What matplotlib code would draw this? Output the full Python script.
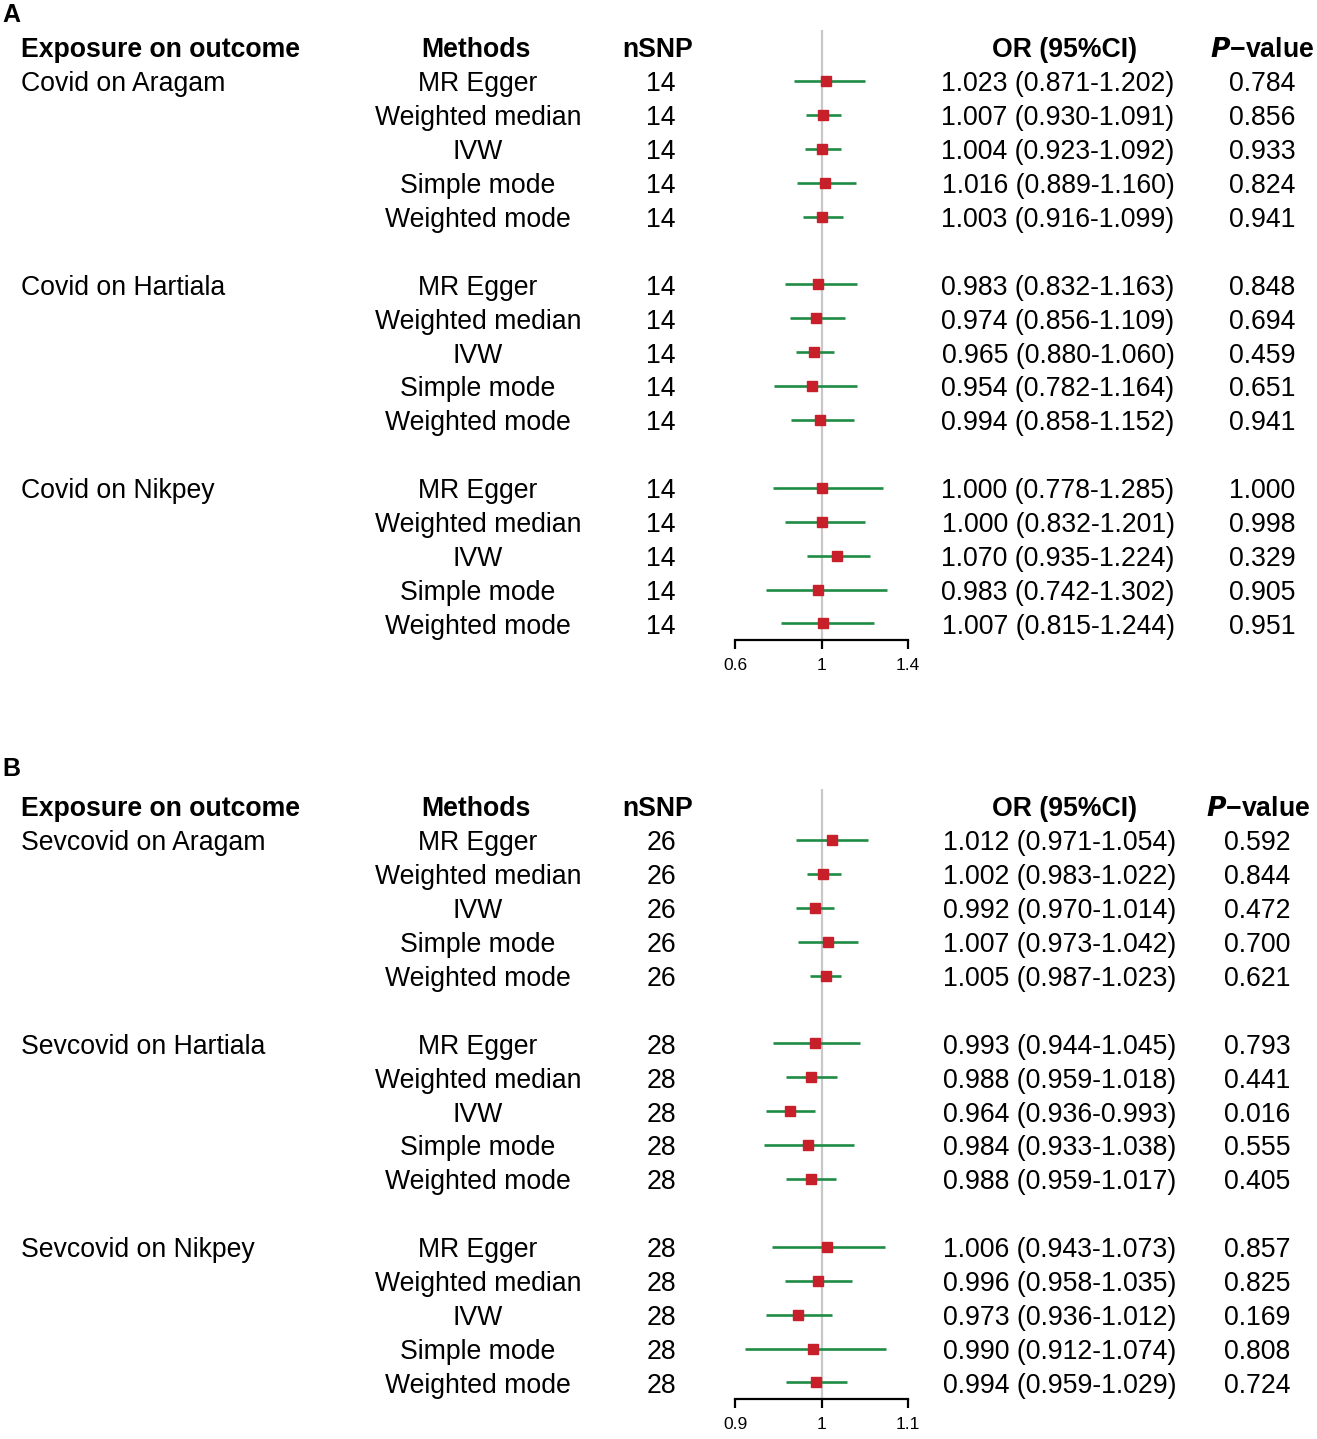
import matplotlib
matplotlib.use("Agg")
import matplotlib.pyplot as plt
from matplotlib.transforms import blended_transform_factory

plt.rcParams['font.family'] = ['Liberation Sans', 'DejaVu Sans']

# ---------------- data ----------------
methods = ["MR Egger", "Weighted median", "IVW", "Simple mode", "Weighted mode"]

groups_a = ["Covid on Aragam", "Covid on Hartiala", "Covid on Nikpey"]
nsnp_a = [14, 14, 14]
or_a = [1.023, 1.007, 1.004, 1.016, 1.003,
        0.983, 0.974, 0.965, 0.954, 0.994,
        1.000, 1.000, 1.070, 0.983, 1.007]
lo_a = [0.871, 0.930, 0.923, 0.889, 0.916,
        0.832, 0.856, 0.880, 0.782, 0.858,
        0.778, 0.832, 0.935, 0.742, 0.815]
hi_a = [1.202, 1.091, 1.092, 1.160, 1.099,
        1.163, 1.109, 1.060, 1.164, 1.152,
        1.285, 1.201, 1.224, 1.302, 1.244]
p_a = [0.784, 0.856, 0.933, 0.824, 0.941,
       0.848, 0.694, 0.459, 0.651, 0.941,
       1.000, 0.998, 0.329, 0.905, 0.951]
ticks_a = [0.6, 1, 1.4]
tick_labels_a = ["0.6", "1", "1.4"]

groups_b = ["Sevcovid on Aragam", "Sevcovid on Hartiala", "Sevcovid on Nikpey"]
nsnp_b = [26, 28, 28]
or_b = [1.012, 1.002, 0.992, 1.007, 1.005,
        0.993, 0.988, 0.964, 0.984, 0.988,
        1.006, 0.996, 0.973, 0.990, 0.994]
lo_b = [0.971, 0.983, 0.970, 0.973, 0.987,
        0.944, 0.959, 0.936, 0.933, 0.959,
        0.943, 0.958, 0.936, 0.912, 0.959]
hi_b = [1.054, 1.022, 1.014, 1.042, 1.023,
        1.045, 1.018, 0.993, 1.038, 1.017,
        1.073, 1.035, 1.012, 1.074, 1.029]
p_b = [0.592, 0.844, 0.472, 0.700, 0.621,
       0.793, 0.441, 0.016, 0.555, 0.405,
       0.857, 0.825, 0.169, 0.808, 0.724]
ticks_b = [0.9, 1, 1.1]
tick_labels_b = ["0.9", "1", "1.1"]

# ---------------- layout ----------------
W, H = 1317, 1439
fig = plt.figure(figsize=(W / 100, H / 100), dpi=100)

FS = 19.2
RED = "#C8202A"
GREEN = "#1E8C45"
GREY = "#C8C8C8"
ROW = 33.9
TOFF = 0.1  # text sits a touch below the mark centre


def panel(letter, letter_y, row0_y, groups, nsnp, orv, lo, hi, pv, ticks, tlabels,
          or_x, p_x, ph_x):
    # row r sits at pixel y = row0_y + ROW * r ; r = 0 is the header
    top_px = row0_y + ROW * (-0.5)
    bot_px = row0_y + ROW * 17.5
    x0, x1 = 735, 908
    ax = fig.add_axes([x0 / W, 1 - bot_px / H, (x1 - x0) / W, (bot_px - top_px) / H])
    ax.set_xlim(ticks[0], ticks[-1])
    ax.set_ylim(17.5, -0.5)
    ax.patch.set_alpha(0)
    for s in ["top", "right", "left"]:
        ax.spines[s].set_visible(False)
    ax.spines["bottom"].set_linewidth(1.6)
    ax.set_yticks([])
    ax.set_xticks(ticks)
    ax.set_xticklabels(tlabels)
    ax.tick_params(axis="x", direction="out", length=6.5, width=1.6, labelsize=12.5,
                   pad=6.5)
    ax.axvline(1, color=GREY, lw=1.6, zorder=0)

    rows = []
    for g in range(len(groups)):
        for m in range(len(methods)):
            rows.append(1 + g * 6 + m)

    for i, r in enumerate(rows):
        ax.plot([lo[i], hi[i]], [r, r], color=GREEN, lw=1.9, solid_capstyle="butt",
                zorder=2, clip_on=False)
        ax.plot(orv[i], r, marker="s", ms=6.6, color=RED, mec=RED, zorder=3,
                clip_on=False)

    tr = blended_transform_factory(fig.transFigure, ax.transData)

    def t(x, y, s, ha="center", **kw):
        fig.text(x / W, y + TOFF, s, transform=tr, ha=ha, va="center", fontsize=FS, **kw)

    # headers
    t(21, 0, "Exposure on outcome", ha="left", fontweight="bold")
    t(476, 0, "Methods", fontweight="bold")
    t(658, 0, "nSNP", fontweight="bold")
    t(1065, 0, "OR (95%CI)", fontweight="bold")
    t(ph_x, 0, r"$\bfit{P}$" + "\u2212value", fontweight="bold")

    for g, name in enumerate(groups):
        t(21, 1 + g * 6, name, ha="left")
    for i, r in enumerate(rows):
        t(478, r, methods[i % 5])
        t(661, r, str(nsnp[i // 5]))
        t(or_x, r, f"{orv[i]:.3f} ({lo[i]:.3f}-{hi[i]:.3f})")
        t(p_x, r, f"{pv[i]:.3f}")

    fig.text(2 / W, 1 - letter_y / H, letter, ha="left", va="center",
             fontsize=18, fontweight="bold")


panel("A", 15, 47.1, groups_a, nsnp_a, or_a, lo_a, hi_a, p_a, ticks_a, tick_labels_a,
      1058, 1262, 1262)
panel("B", 769, 806.1, groups_b, nsnp_b, or_b, lo_b, hi_b, p_b, ticks_b, tick_labels_b,
      1060, 1257, 1258)

fig.savefig("out.png", dpi=100)
